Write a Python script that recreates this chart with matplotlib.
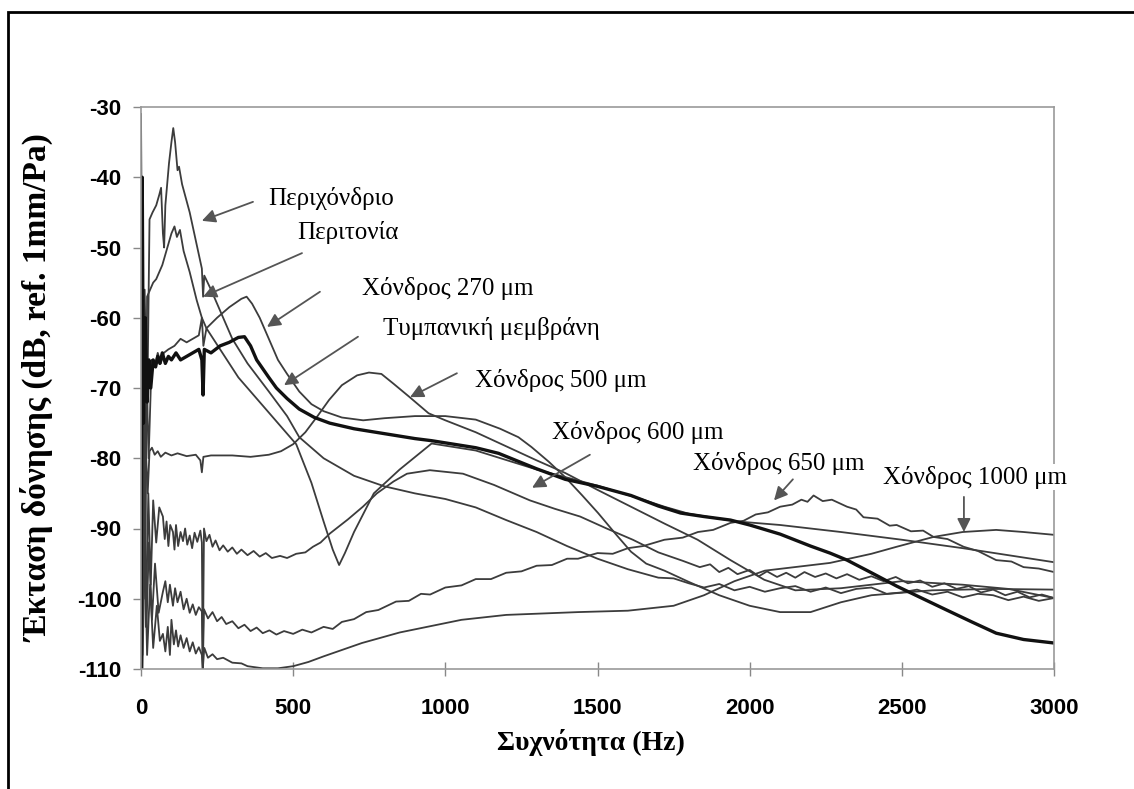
import matplotlib
matplotlib.use("Agg")
import matplotlib.pyplot as plt
from matplotlib.patches import Rectangle

# Vibration amplitude curves: (frequency Hz, level dB re 1mm/Pa)
perichondrio = [(0, -31), (6, -72), (12, -56), (20, -75), (28, -46), (38, -45), (50, -44),
                (60, -42.5), (66, -41.5), (72, -48), (76, -50), (80, -44), (92, -38), (100, -35),
                (106, -33), (112, -35), (120, -39), (125, -38.5), (135, -41), (160, -45),
                (185, -50), (200, -53), (204, -57), (208, -54), (230, -56), (260, -59),
                (300, -63), (350, -66.5), (420, -70.5), (480, -74), (520, -77), (600, -80),
                (700, -82.5), (800, -84), (900, -85), (1000, -85.8), (1100, -87), (1200, -88.8),
                (1300, -90.5), (1400, -92.5), (1500, -94.3), (1600, -95.8), (1700, -97),
                (1750, -97.1), (1800, -97.8), (1850, -98.4), (1900, -97.9), (1950, -98.8),
                (2000, -98.3), (2050, -99), (2100, -98.5), (2150, -98.2), (2200, -99),
                (2250, -98.4), (2300, -99.2), (2350, -98.6), (2400, -98.4), (2450, -99.3),
                (2500, -99.1), (2550, -98.7), (2600, -99.4), (2650, -99), (2700, -99.8),
                (2750, -99.3), (2800, -99.5), (2850, -100.2), (2900, -99.7), (2950, -100.3),
                (3000, -99.9)]

peritonia = [(0, -55), (4, -95), (8, -60), (14, -100), (20, -57), (30, -56), (40, -55),
             (50, -54.5), (60, -53.5), (70, -52.5), (80, -51), (90, -49.5), (100, -48),
             (110, -47), (118, -48.5), (128, -47.5), (140, -50.5), (160, -53.5), (183, -57.5),
             (200, -60), (215, -61.5), (260, -64.5), (320, -68.5), (400, -72.5), (470, -76),
             (510, -78), (560, -83.5), (600, -89), (630, -93), (651, -95.2), (670, -93.5),
             (700, -90.5), (765, -85), (850, -81.6), (955, -77.9), (1100, -78.9),
             (1300, -81.6), (1500, -83.9), (1650, -85.9), (1720, -86.9), (1800, -87.9),
             (1900, -88.6), (1960, -89), (2100, -89.5), (2300, -90.5), (2500, -91.6),
             (2700, -92.8), (2850, -93.8), (3000, -94.8)]

chondros_270 = [(0, -100), (5, -58), (10, -90), (18, -68), (25, -80), (35, -66), (45, -67),
                (55, -65), (65, -66.5), (75, -65), (90, -64.5), (110, -64), (130, -63),
                (150, -63.5), (170, -63), (190, -62.5), (200, -60), (205, -64), (215, -61.5),
                (250, -60), (290, -58.5), (330, -57.3), (347, -57), (365, -58), (390, -60),
                (420, -63), (450, -66), (480, -68), (520, -70.5), (560, -72.3), (600, -73.3),
                (660, -74.2), (730, -74.6), (800, -74.3), (900, -74), (1000, -74), (1100, -74.5),
                (1180, -75.8), (1240, -77), (1283, -78.4), (1340, -80.5), (1394, -82.7),
                (1450, -85.3), (1502, -87.8), (1560, -90.8), (1610, -93.3), (1660, -95),
                (1720, -96), (1800, -97.6), (1900, -99.5), (2000, -101), (2100, -101.9),
                (2200, -101.9), (2300, -100.5), (2400, -99.5), (2483, -99.2), (2600, -98.8),
                (2800, -98.6), (3000, -98.7)]

tympaniki = [(0, -110), (4, -40), (8, -75), (14, -60), (20, -72), (26, -66), (32, -70),
             (40, -66), (48, -67), (55, -65.5), (62, -66.5), (70, -65), (80, -66.5),
             (90, -65.5), (100, -66), (115, -65), (130, -66), (150, -65.5), (170, -65),
             (190, -64.5), (200, -66), (204, -71), (208, -64.5), (230, -65), (260, -64),
             (290, -63.5), (320, -62.8), (340, -62.7), (360, -64), (380, -66), (420, -68.5),
             (445, -70), (480, -71.5), (520, -73), (570, -74.2), (620, -75), (700, -75.8),
             (800, -76.5), (900, -77.2), (955, -77.5), (1100, -78.5), (1175, -79.3),
             (1300, -81.5), (1394, -83), (1500, -84), (1610, -85.3), (1700, -86.8),
             (1773, -87.8), (1850, -88.3), (1937, -88.8), (2000, -89.5), (2100, -90.8),
             (2200, -92.5), (2264, -93.5), (2320, -94.5), (2400, -96.3), (2483, -98.2),
             (2560, -99.8), (2647, -101.6), (2730, -103.3), (2810, -104.9), (2900, -105.8),
             (3000, -106.3)]

chondros_500 = [(0, -105), (5, -70), (10, -95), (15, -78), (22, -85), (28, -79), (36, -78.5),
                (45, -79.5), (55, -79), (65, -79.8), (80, -79.2), (100, -79.6), (120, -79.3),
                (150, -79.7), (180, -79.5), (195, -80.3), (200, -82), (205, -79.8), (230, -79.6),
                (300, -79.6), (360, -79.8), (420, -79.5), (460, -79), (500, -78), (540, -76.3),
                (580, -74), (618, -71.7), (660, -69.6), (710, -68.2), (749, -67.8), (790, -68),
                (830, -69.4), (880, -71.2), (945, -73.6), (1000, -74.6), (1100, -76.3),
                (1175, -77.8), (1300, -80.3), (1394, -82.1), (1500, -84.5), (1610, -86.9),
                (1720, -89.3), (1829, -91.6), (1937, -94.5), (2048, -97.3), (2150, -98.8),
                (2300, -98.5), (2500, -97.5), (2700, -98), (2850, -98.6), (3000, -99.9)]

chondros_600 = [(0, -70), (5, -100), (10, -75), (16, -104), (24, -85), (32, -98), (40, -86),
                (50, -92), (60, -87), (72, -88.3), (78, -91.5), (84, -89), (90, -92.5),
                (96, -89.5), (105, -90.5), (110, -93), (115, -89.5), (122, -92.5), (130, -90.5),
                (138, -91.8), (145, -90), (152, -92.3), (160, -91), (168, -92.8), (176, -90.6),
                (185, -91.9), (195, -90.3), (200, -92), (203, -110), (207, -90), (215, -91.8),
                (225, -90.9), (235, -92.6), (245, -91.7), (258, -93.1), (270, -92.4),
                (285, -93.3), (300, -92.7), (315, -93.6), (330, -93), (350, -93.8),
                (370, -93.2), (390, -94), (410, -93.5), (430, -94.2), (457, -93.9),
                (480, -94.2), (510, -93.6), (540, -93.4), (565, -92.6), (590, -92),
                (621, -90.7), (680, -88.7), (729, -86.9), (775, -85), (830, -83.3),
                (874, -82.2), (949, -81.7), (1058, -82.2), (1160, -83.8), (1278, -86),
                (1360, -87.2), (1443, -88.3), (1530, -90), (1616, -91.6), (1700, -93.4),
                (1780, -94.6), (1836, -95.5), (1870, -95.1), (1900, -96.2), (1930, -95.6),
                (1960, -96.5), (2000, -95.9), (2030, -96.8), (2057, -96.1), (2090, -96.9),
                (2120, -96.3), (2150, -97), (2180, -96.2), (2215, -96.9), (2250, -96.4),
                (2285, -97.1), (2320, -96.5), (2360, -97.3), (2400, -96.8), (2440, -97.5),
                (2480, -96.9), (2520, -97.8), (2560, -97.4), (2600, -98.3), (2640, -97.8),
                (2680, -98.6), (2720, -98.2), (2760, -99.1), (2800, -98.7), (2840, -99.5),
                (2880, -99), (2920, -99.8), (2960, -99.4), (3000, -99.9)]

chondros_650 = [(0, -90), (5, -108), (10, -85), (18, -104), (26, -92), (36, -103), (46, -95),
                (58, -102), (72, -99), (80, -97.5), (88, -100.5), (95, -98), (105, -101),
                (112, -98.5), (120, -100.5), (130, -99), (140, -101.5), (150, -100),
                (160, -102), (170, -100.8), (180, -102.3), (190, -101.2), (200, -101.8),
                (203, -110), (207, -101.5), (220, -102.8), (235, -101.9), (250, -103.2),
                (265, -102.6), (280, -103.6), (300, -103.2), (320, -104.2), (340, -103.7),
                (360, -104.6), (380, -104.1), (400, -104.9), (422, -104.5), (445, -105.1),
                (470, -104.6), (500, -105), (530, -104.4), (560, -104.8), (600, -104),
                (630, -104.3), (660, -103.3), (700, -102.9), (740, -101.9), (780, -101.6),
                (838, -100.4), (880, -100.3), (920, -99.3), (950, -99.4), (1000, -98.4),
                (1053, -98.1), (1100, -97.2), (1150, -97.2), (1200, -96.3), (1250, -96.1),
                (1300, -95.3), (1350, -95.2), (1400, -94.3), (1436, -94.3), (1500, -93.5),
                (1550, -93.6), (1600, -92.8), (1650, -92.5), (1720, -91.6), (1780, -91.3),
                (1830, -90.5), (1880, -90.2), (1937, -89.2), (1980, -88.9), (2020, -88),
                (2060, -87.7), (2100, -86.9), (2140, -86.6), (2170, -85.9), (2190, -86.2),
                (2210, -85.3), (2240, -86.1), (2270, -85.9), (2320, -86.9), (2350, -87.3),
                (2374, -88.4), (2420, -88.6), (2460, -89.6), (2483, -89.5), (2530, -90.4),
                (2570, -90.3), (2604, -91.2), (2650, -91.5), (2703, -92.6), (2750, -93.2),
                (2810, -94.5), (2860, -94.7), (2900, -95.5), (2950, -95.7), (3000, -96.2)]

chondros_1000 = [(0, -95), (5, -110), (12, -92), (20, -108), (30, -98), (40, -107), (52, -101),
                 (62, -106), (72, -105), (80, -107.5), (88, -104), (95, -108), (100, -103),
                 (108, -106.5), (115, -104.5), (122, -106.8), (130, -105.2), (140, -107),
                 (150, -105.6), (160, -107.5), (170, -106.2), (180, -107.8), (190, -106.9),
                 (200, -108), (203, -110), (208, -107), (220, -108.4), (235, -107.9),
                 (250, -108.6), (270, -108.4), (300, -109.1), (330, -109.2), (350, -109.6),
                 (400, -109.9), (450, -109.9), (500, -109.6), (550, -109), (600, -108.2),
                 (726, -106.3), (850, -104.8), (1053, -103), (1200, -102.3), (1436, -101.9),
                 (1600, -101.7), (1750, -101), (1850, -99.5), (1950, -97.5), (2050, -96),
                 (2264, -94.9), (2400, -93.6), (2483, -92.6), (2604, -91.2), (2700, -90.5),
                 (2810, -90.2), (2900, -90.5), (3000, -90.9)]

# Curve labels: text, text anchor (Hz, dB), arrow tail, arrow head
labels = ["Περιχόνδριο", "Περιτονία", "Χόνδρος 270 μm", "Τυμπανική μεμβράνη",
          "Χόνδρος 500 μm", "Χόνδρος 600 μm", "Χόνδρος 650 μm", "Χόνδρος 1000 μm"]
label_pos = [(417, -43.0), (513, -47.9), (726, -55.8), (795, -61.5),
             (1097, -68.9), (1350, -76.4), (1814, -80.7), (2438, -82.7)]
arrow_tail = [(368, -43.5), (529, -50.8), (588, -56.3), (713, -62.7),
              (1038, -67.9), (1475, -79.5), (2142, -83.0), (2704, -85.5)]
arrow_head = [(200, -46.2), (204, -57.0), (414, -61.3), (470, -69.6),
              (884, -71.3), (1285, -84.2), (2080, -86.0), (2704, -90.5)]

x_ticks = [0, 500, 1000, 1500, 2000, 2500, 3000]
y_ticks = [-30, -40, -50, -60, -70, -80, -90, -100, -110]

tick_font = ["Liberation Sans Narrow", "Liberation Sans", "DejaVu Sans"]
serif_font = ["Liberation Serif", "DejaVu Serif"]

fig = plt.figure(figsize=(11.34, 7.89), dpi=100)
ax = fig.add_axes([141 / 1134, 1 - 669 / 789, 913 / 1134, 562 / 789])

thin = [perichondrio, peritonia, chondros_270, chondros_500,
        chondros_600, chondros_650, chondros_1000]
for curve in thin:
    f, d = zip(*curve)
    ax.plot(f, d, color="#3c3c3c", lw=1.3, solid_joinstyle="round")
f, d = zip(*tympaniki)
ax.plot(f, d, color="#111111", lw=2.4, solid_joinstyle="round")

ax.set_xlim(0, 3000)
ax.set_ylim(-110, -30)
ax.set_xticks(x_ticks)
ax.set_yticks(y_ticks)
ax.set_xticklabels([str(t) for t in x_ticks], family=tick_font, fontweight="bold", fontsize=16)
ax.set_yticklabels([str(t) for t in y_ticks], family=tick_font, fontweight="bold", fontsize=16)
ax.tick_params(axis="x", direction="inout", length=10, width=1, color="#888888", pad=16)
ax.tick_params(axis="y", direction="out", length=6, width=1, color="#888888", pad=8)
for side in ["left", "right", "top", "bottom"]:
    ax.spines[side].set_color("#999999")
    ax.spines[side].set_linewidth(1.2)

for text, pos, tail, head in zip(labels, label_pos, arrow_tail, arrow_head):
    ax.annotate("", xy=head, xytext=tail,
                arrowprops=dict(arrowstyle="-|>", color="#555555", lw=1.3,
                                mutation_scale=20, shrinkA=0, shrinkB=0))
    ax.text(pos[0], pos[1], text, family=serif_font, fontsize=18, ha="left", va="center",
            bbox=dict(facecolor="white", edgecolor="none", pad=1.0))

fig.text(38 / 1134, 1 - 388 / 789, "Έκταση δόνησης (dB, ref. 1mm/Pa)", rotation=90,
         ha="center", va="center", family=serif_font, fontweight="bold", fontsize=24)
fig.text(591 / 1134, 1 - 742 / 789, "Συχνότητα (Hz)", ha="center", va="center",
         family=serif_font, fontweight="bold", fontsize=20)

# outer frame, open past the right and bottom edges
fig.patches.append(Rectangle((8 / 1134, -0.1), 1.2, 1.1 - 12 / 789, transform=fig.transFigure,
                             fill=False, edgecolor="black", lw=2))

fig.savefig("out.png", dpi=100)
